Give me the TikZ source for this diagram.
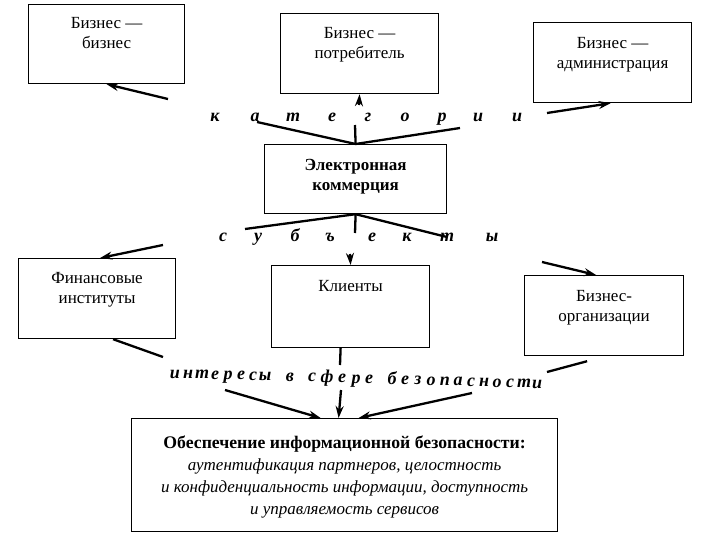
\documentclass[tikz,border=0pt]{standalone}
\usepackage{fontspec}
\setmainfont{Liberation Serif}
\usetikzlibrary{arrows.meta,calc}
\newcommand\bxt[4]{\parbox[c][#1][t]{#2}{\centering\vspace*{#3}#4\par}}
\begin{document}
\begin{tikzpicture}[x=1pt,y=-1pt,
  box/.style={draw, line width=1.2pt, inner sep=0pt, anchor=north west,
    font=\fontsize{17}{20}\selectfont},
  conn/.style={line width=2.3pt},
  arr/.style={line width=2.3pt, -{Stealth[length=12pt,width=8pt]}},
  letr/.style={font=\fontsize{18}{18}\selectfont\bfseries\itshape, inner sep=0pt, anchor=base}]
\useasboundingbox (0,0) rectangle (712,543);

% boxes
\node[box] (b1) at (28,4)   {\bxt{79pt}{156pt}{13pt}{Бизнес —\\бизнес}};
\node[box] (b2) at (280,13) {\bxt{80pt}{158pt}{14pt}{Бизнес —\\потребитель}};
\node[box] (b3) at (533,22) {\bxt{80pt}{158pt}{15pt}{Бизнес —\\администрация}};
\node[box] (ek) at (264,144) {\bxt{69pt}{182pt}{15pt}{\bfseries Электронная\\коммерция}};
\node[box] (fin) at (18,258) {\bxt{80pt}{157pt}{14pt}{Финансовые\\институты}};
\node[box] (kl) at (271,265) {\bxt{82pt}{158pt}{15pt}{Клиенты}};
\node[box] (bo) at (524,275) {\bxt{80pt}{159pt}{15pt}{Бизнес-\\организации}};
\node[box, font=\fontsize{17}{22}\selectfont] (bt) at (131,418)
  {\bxt{113pt}{426pt}{17pt}{{\fontsize{17.7}{22}\selectfont\bfseries Обеспечение информационной безопасности:}\\
   \itshape аутентификация партнеров, целостность\\
   и конфиденциальность информации, доступность\\
   и управляемость сервисов}};

% letter rows
\foreach \x/\c [count=\i] in {215/к,255/а,293/т,332/е,368/г,405/о,442/р,478/и,517/и}
  \node[letr] (kat\i) at (\x,121) {\c};
\foreach \x/\c [count=\i] in {223/с,258/у,295/б,330/ъ,372/е,407/к,447/т,492/ы}
  \node[letr] (sub\i) at (\x,241) {\c};
\foreach \x/\c [count=\i] in {175/и,188/н,202/т,215/е,228/р,241/е,253/с,265/ы,290/в,
   312/с,327/ф,342/е,356/р,369/е,
   392/б,405/е,418/з,431/о,445/п,458/а,471/с,484/н,497/о,510/с,524/т,537/и}
  {\pgfmathsetmacro\yy{378+(\x-175)*0.028}
   \node[letr] (int\i) at (\x,\yy) {\c};}

% top connectors
\coordinate (k1) at (257,122);
\coordinate (k2) at (355,125);
\coordinate (k3) at (460,128);
\draw[conn] (k1) -- (ek.north) -- (k3);
\draw[conn] (ek.north) -- (k2);
\coordinate (a1) at (168,99);
\coordinate (a2) at (359,105);
\coordinate (a3) at (547,113);
\draw[arr] (a1) -- (b1.south);
\draw[arr] (a2) -- (b2.south);
\draw[arr] (a3) -- ($(b3.south)+(-2,0)$);

% middle connectors
\coordinate (s1) at (245,229);
\coordinate (s2) at (355,233);
\coordinate (s3) at (447,237);
\draw[conn] (s1) -- (ek.south) -- (s3);
\draw[conn] (ek.south) -- (s2);
\coordinate (f1) at (163,245);
\coordinate (f2) at (350,254);
\coordinate (f3) at (542,262);
\draw[arr] (f1) -- ($(fin.north)+(3,0)$);
\draw[arr] (f2) -- (kl.north);
\draw[arr] (f3) -- ($(bo.north)+(-8,0)$);

% bottom connectors
\coordinate (i1) at (163,357);
\coordinate (i2) at (340,365);
\coordinate (i3) at (547,372);
\draw[conn] ($(fin.south)+(16,0)$) -- (i1);
\draw[conn] ($(kl.south)+(-10,0)$) -- (i2);
\draw[conn] ($(bo.south)+(-17,5)$) -- (i3);
\coordinate (j1) at (225,390);
\coordinate (j2) at (341,390);
\coordinate (j3) at (472,393);
\draw[arr] (j1) -- ($(bt.north)+(-24,0)$);
\draw[arr] (j2) -- ($(bt.north)+(-6,0)$);
\draw[arr] (j3) -- ($(bt.north)+(14,0)$);
\end{tikzpicture}
\end{document}
